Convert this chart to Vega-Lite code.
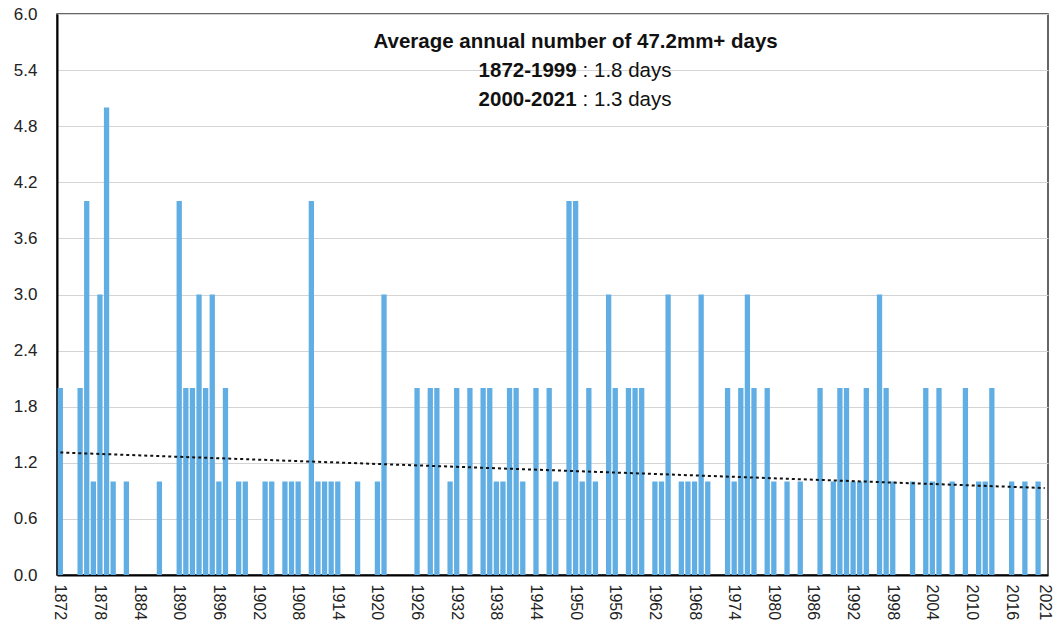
{
  "$schema": "https://vega.github.io/schema/vega-lite/v6.json",
  "autosize": "none",
  "padding": {"left": 57, "top": 14, "right": 6, "bottom": 50},
  "width": 991,
  "height": 561,
  "background": "white",
  "config": {
    "font": "Liberation Sans",
    "view": {"stroke": "#333333", "strokeWidth": 1.5},
    "axis": {"labelFont": "Liberation Sans", "labelColor": "#222222", "titleFont": "Liberation Sans"}
  },
  "datasets": {
    "days": [
      {"year":1872,"days":2},{"year":1873,"days":0},{"year":1874,"days":0},{"year":1875,"days":2},{"year":1876,"days":4},
      {"year":1877,"days":1},{"year":1878,"days":3},{"year":1879,"days":5},{"year":1880,"days":1},{"year":1881,"days":0},
      {"year":1882,"days":1},{"year":1883,"days":0},{"year":1884,"days":0},{"year":1885,"days":0},{"year":1886,"days":0},
      {"year":1887,"days":1},{"year":1888,"days":0},{"year":1889,"days":0},{"year":1890,"days":4},{"year":1891,"days":2},
      {"year":1892,"days":2},{"year":1893,"days":3},{"year":1894,"days":2},{"year":1895,"days":3},{"year":1896,"days":1},
      {"year":1897,"days":2},{"year":1898,"days":0},{"year":1899,"days":1},{"year":1900,"days":1},{"year":1901,"days":0},
      {"year":1902,"days":0},{"year":1903,"days":1},{"year":1904,"days":1},{"year":1905,"days":0},{"year":1906,"days":1},
      {"year":1907,"days":1},{"year":1908,"days":1},{"year":1909,"days":0},{"year":1910,"days":4},{"year":1911,"days":1},
      {"year":1912,"days":1},{"year":1913,"days":1},{"year":1914,"days":1},{"year":1915,"days":0},{"year":1916,"days":0},
      {"year":1917,"days":1},{"year":1918,"days":0},{"year":1919,"days":0},{"year":1920,"days":1},{"year":1921,"days":3},
      {"year":1922,"days":0},{"year":1923,"days":0},{"year":1924,"days":0},{"year":1925,"days":0},{"year":1926,"days":2},
      {"year":1927,"days":0},{"year":1928,"days":2},{"year":1929,"days":2},{"year":1930,"days":0},{"year":1931,"days":1},
      {"year":1932,"days":2},{"year":1933,"days":0},{"year":1934,"days":2},{"year":1935,"days":0},{"year":1936,"days":2},
      {"year":1937,"days":2},{"year":1938,"days":1},{"year":1939,"days":1},{"year":1940,"days":2},{"year":1941,"days":2},
      {"year":1942,"days":1},{"year":1943,"days":0},{"year":1944,"days":2},{"year":1945,"days":0},{"year":1946,"days":2},
      {"year":1947,"days":1},{"year":1948,"days":0},{"year":1949,"days":4},{"year":1950,"days":4},{"year":1951,"days":1},
      {"year":1952,"days":2},{"year":1953,"days":1},{"year":1954,"days":0},{"year":1955,"days":3},{"year":1956,"days":2},
      {"year":1957,"days":0},{"year":1958,"days":2},{"year":1959,"days":2},{"year":1960,"days":2},{"year":1961,"days":0},
      {"year":1962,"days":1},{"year":1963,"days":1},{"year":1964,"days":3},{"year":1965,"days":0},{"year":1966,"days":1},
      {"year":1967,"days":1},{"year":1968,"days":1},{"year":1969,"days":3},{"year":1970,"days":1},{"year":1971,"days":0},
      {"year":1972,"days":0},{"year":1973,"days":2},{"year":1974,"days":1},{"year":1975,"days":2},{"year":1976,"days":3},
      {"year":1977,"days":2},{"year":1978,"days":0},{"year":1979,"days":2},{"year":1980,"days":1},{"year":1981,"days":0},
      {"year":1982,"days":1},{"year":1983,"days":0},{"year":1984,"days":1},{"year":1985,"days":0},{"year":1986,"days":0},
      {"year":1987,"days":2},{"year":1988,"days":0},{"year":1989,"days":1},{"year":1990,"days":2},{"year":1991,"days":2},
      {"year":1992,"days":1},{"year":1993,"days":1},{"year":1994,"days":2},{"year":1995,"days":0},{"year":1996,"days":3},
      {"year":1997,"days":2},{"year":1998,"days":1},{"year":1999,"days":0},{"year":2000,"days":0},{"year":2001,"days":1},
      {"year":2002,"days":0},{"year":2003,"days":2},{"year":2004,"days":1},{"year":2005,"days":2},{"year":2006,"days":0},
      {"year":2007,"days":1},{"year":2008,"days":0},{"year":2009,"days":2},{"year":2010,"days":0},{"year":2011,"days":1},
      {"year":2012,"days":1},{"year":2013,"days":2},{"year":2014,"days":0},{"year":2015,"days":0},{"year":2016,"days":1},
      {"year":2017,"days":0},{"year":2018,"days":1},{"year":2019,"days":0},{"year":2020,"days":1},{"year":2021,"days":0}
    ],
    "trend": [
      {"year":1872,"days":1.31},
      {"year":2021,"days":0.93}
    ],
    "notes": [
      {"year":1950,"days":5.636,"bold":"Average annual number of 47.2mm+ days","plain":""},
      {"year":1950,"days":5.33,"bold":"1872-1999","plain":": 1.8 days"},
      {"year":1950,"days":5.02,"bold":"2000-2021","plain":": 1.3 days"}
    ]
  },
  "layer": [
    {
      "data": {"name": "days"},
      "mark": {"type": "bar", "color": "#60AEE3"},
      "encoding": {
        "x": {
          "field": "year", "type": "ordinal",
          "scale": {"paddingInner": 0.2, "paddingOuter": 0.1},
          "axis": {
            "title": null,
            "values": [1872,1878,1884,1890,1896,1902,1908,1914,1920,1926,1932,1938,1944,1950,1956,1962,1968,1974,1980,1986,1992,1998,2004,2010,2016,2021],
            "labelAngle": 90,
            "labelFontSize": 16,
            "labelPadding": 9,
            "ticks": false,
            "domainColor": "#000000",
            "domainWidth": 2,
            "labelOverlap": false
          }
        },
        "y": {
          "field": "days", "type": "quantitative",
          "scale": {"domain": [0, 6], "nice": false},
          "axis": {
            "title": null,
            "values": [0,0.6,1.2,1.8,2.4,3,3.6,4.2,4.8,5.4,6],
            "format": ".1f",
            "labelFontSize": 17,
            "labelPadding": 20,
            "ticks": false,
            "domainColor": "#000000",
            "domainWidth": 2,
            "gridColor": "#D4D4D4",
            "gridWidth": 1
          }
        }
      }
    },
    {
      "data": {"name": "trend"},
      "mark": {"type": "line", "color": "#111111", "strokeWidth": 2, "strokeDash": [3, 3]},
      "encoding": {
        "x": {"field": "year", "type": "ordinal"},
        "y": {"field": "days", "type": "quantitative"}
      }
    },
    {
      "data": {"name": "notes"},
      "transform": [{"filter": "datum.plain === ''"}],
      "mark": {"type": "text", "fontSize": 20.5, "fontWeight": "bold", "align": "center", "baseline": "alphabetic", "color": "#111111"},
      "encoding": {
        "x": {"field": "year", "type": "ordinal"},
        "y": {"field": "days", "type": "quantitative"},
        "text": {"field": "bold"}
      }
    },
    {
      "data": {"name": "notes"},
      "transform": [{"filter": "datum.plain !== ''"}],
      "mark": {"type": "text", "fontSize": 20.5, "fontWeight": "bold", "align": "right", "baseline": "alphabetic", "dx": 1, "color": "#111111"},
      "encoding": {
        "x": {"field": "year", "type": "ordinal"},
        "y": {"field": "days", "type": "quantitative"},
        "text": {"field": "bold"}
      }
    },
    {
      "data": {"name": "notes"},
      "transform": [{"filter": "datum.plain !== ''"}],
      "mark": {"type": "text", "fontSize": 20.5, "align": "left", "baseline": "alphabetic", "dx": 7, "color": "#111111"},
      "encoding": {
        "x": {"field": "year", "type": "ordinal"},
        "y": {"field": "days", "type": "quantitative"},
        "text": {"field": "plain"}
      }
    }
  ]
}
